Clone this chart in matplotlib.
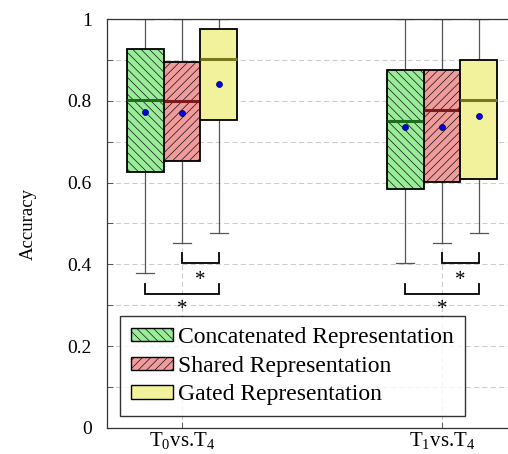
import matplotlib
matplotlib.use("Agg")
import matplotlib.pyplot as plt
from matplotlib.patches import Patch
from matplotlib.ticker import MultipleLocator

plt.rcParams['font.family'] = ['Liberation Serif', 'DejaVu Serif']
plt.rcParams['mathtext.fontset'] = 'custom'
plt.rcParams['mathtext.rm'] = 'Liberation Serif'
plt.rcParams['hatch.linewidth'] = 0.45

# ---- data ----
groups = ["T$_0$vs.T$_4$", "T$_1$vs.T$_4$"]
methods = ["Concatenated Representation", "Shared Representation", "Gated Representation"]
q1 = [[0.627, 0.652, 0.752], [0.584, 0.602, 0.609]]
q3 = [[0.926, 0.895, 0.976], [0.875, 0.875, 0.900]]
med = [[0.802, 0.800, 0.901], [0.751, 0.777, 0.802]]
mean = [[0.773, 0.770, 0.841], [0.736, 0.736, 0.764]]
wlo = [[0.378, 0.452, 0.477], [0.403, 0.452, 0.477]]
whi = [[1.0, 1.0, 1.0], [1.0, 1.0, 1.0]]
# significance brackets: (method index a, method index b, bracket y)
sig = [(1, 2, 0.403), (0, 2, 0.327)]

face = ["#9AEC9A", "#F09C9C", "#F2F29C"]
medc = ["#1C6E1C", "#7A1A1A", "#76761C"]
hatches = ["\\\\\\\\", "////", ""]

W, H = 508, 454
fig = plt.figure(figsize=(W / 100, H / 100), dpi=100)
ax = fig.add_axes([107 / W, 1 - 428 / H, (510 - 107) / W, (428 - 19) / H])

pos = [1, 2]
off = 0.1423
width = 0.1423

for g in range(2):
    for m in range(3):
        st = [dict(med=med[g][m], q1=q1[g][m], q3=q3[g][m], whislo=wlo[g][m],
                   whishi=whi[g][m], mean=mean[g][m], fliers=[])]
        b = ax.bxp(st, positions=[pos[g] + (m - 1) * off], widths=width,
                   patch_artist=True, showmeans=True, manage_ticks=False,
                   boxprops=dict(facecolor=face[m], edgecolor='black', linewidth=1.3,
                                 hatch=hatches[m]),
                   medianprops=dict(color=medc[m], linewidth=2.2),
                   whiskerprops=dict(color='#555555', linewidth=0.9),
                   capprops=dict(color='#555555', linewidth=0.9),
                   capwidths=width / 2,
                   meanprops=dict(marker='o', markerfacecolor='#0000EE',
                                  markeredgecolor='#000044', markersize=4.3,
                                  markeredgewidth=0.5))
        for art in b['boxes'] + b['medians'] + b['means']:
            art.set_zorder(3)
        for art in b['whiskers'] + b['caps']:
            art.set_zorder(2)
    # significance brackets
    for (a, c, y) in sig:
        xa = pos[g] + (a - 1) * off
        xc = pos[g] + (c - 1) * off
        ax.plot([xa, xa, xc, xc], [y + 0.025, y, y, y + 0.025], color='black',
                linewidth=1.3, zorder=4, solid_joinstyle='miter')
    xs = (pos[g] + (pos[g] + off)) / 2
    ax.text(xs, 0.360, "*", ha='center', va='center', fontsize=15, zorder=4)
    ax.text(pos[g], 0.289, "*", ha='center', va='center', fontsize=15, zorder=4)

ax.set_xlim(1 - 75 / 260, 2 + 68 / 260)
ax.set_ylim(0, 1)
ax.set_xticks(pos)
ax.set_xticklabels(groups, fontsize=15)
ax.set_yticks([0, 0.2, 0.4, 0.6, 0.8, 1.0])
ax.set_yticklabels(["0", "0.2", "0.4", "0.6", "0.8", "1"], fontsize=14)
ax.yaxis.set_minor_locator(MultipleLocator(0.1))
ax.tick_params(axis='both', which='both', direction='in', length=4, width=0.7,
               color='#555555')
ax.tick_params(axis='y', which='major', pad=11)
ax.tick_params(axis='x', which='major', pad=2)
ax.set_ylabel("Accuracy", fontsize=13.5, labelpad=22)

ax.grid(True, which='both', axis='y', color='#cccccc', linestyle=(0, (4.5, 3)), linewidth=0.8)
ax.grid(True, which='major', axis='x', color='#cccccc', linestyle=(0, (4.5, 3)), linewidth=0.8)
ax.set_axisbelow(True)
for s in ax.spines.values():
    s.set_color('#333333')
    s.set_linewidth(0.9)

handles = [Patch(facecolor=face[m], edgecolor='black', hatch=hatches[m], linewidth=1.0)
           for m in range(3)]
leg = ax.legend(handles, methods, loc='upper left',
                bbox_to_anchor=(120 / W, 1 - 316 / H), bbox_transform=fig.transFigure,
                fontsize=17, frameon=True, fancybox=False, borderaxespad=0,
                handlelength=1.78, handleheight=0.5, handletextpad=0.2,
                labelspacing=0.32, borderpad=0.47)
leg.get_frame().set_edgecolor('black')
leg.get_frame().set_linewidth(1.0)
leg.set_zorder(5)

fig.savefig("out.png", dpi=100)
